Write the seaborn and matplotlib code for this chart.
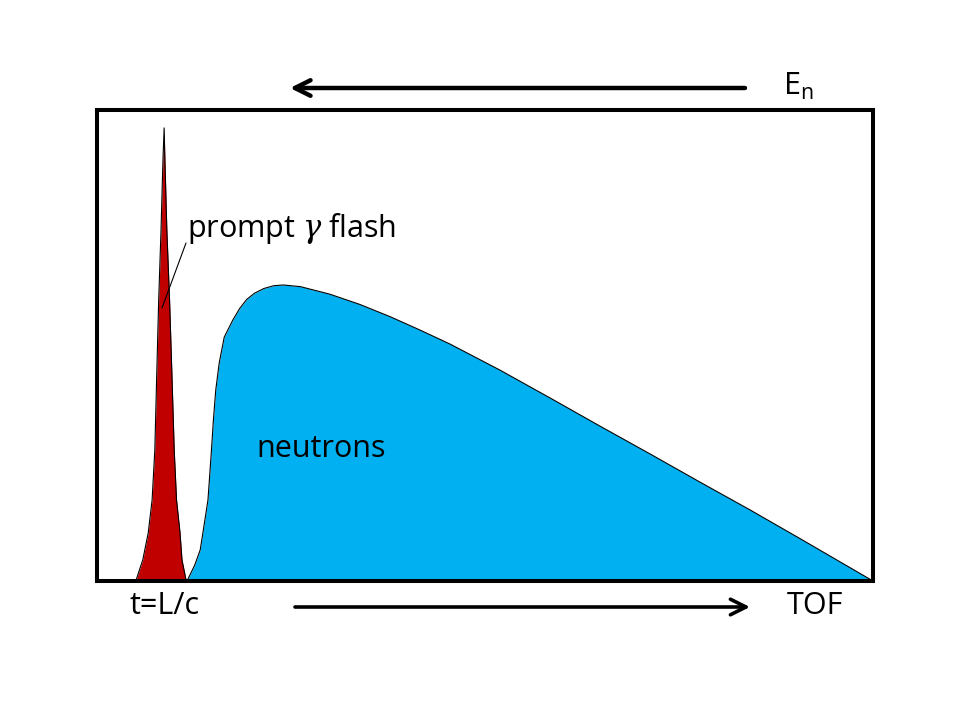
import matplotlib
matplotlib.use("Agg")
import matplotlib.pyplot as plt
import seaborn as sns
import numpy as np
import pandas as pd

# ---- data (arbitrary units: time 0..100, intensity 0..100) ----
gamma_t = [5.0, 5.9, 6.6, 7.1, 7.45, 7.7, 7.95, 8.25, 8.5, 8.65,
           8.75, 9.0, 9.35, 9.65, 9.95, 10.25, 10.7, 10.95, 11.5]
gamma_counts = [0, 4.5, 10.2, 17.2, 27.8, 44.0, 59.7, 74.5, 89.4, 96.2,
                89.4, 74.5, 59.7, 44.0, 27.8, 17.2, 10.2, 4.5, 0]

neutron_t = [11.6, 12.6, 13.3, 13.9, 14.3, 14.75, 15.0, 15.3, 15.75, 16.4,
             17.5, 18.4, 19.3, 20.3, 21.5, 22.8, 24.0, 26.2, 30.0, 33.9,
             37.8, 41.6, 45.5, 51.9, 58.4, 64.8, 71.3, 77.7, 84.2, 90.6,
             100.0]
neutron_counts = [0, 3.4, 6.6, 12.9, 17.2, 27.8, 34.2, 40.5, 46.3, 51.8,
                  55.4, 57.9, 59.8, 61.1, 62.1, 62.7, 62.85, 62.5, 60.9, 58.7,
                  56.1, 53.3, 50.3, 44.8, 38.85, 32.9, 26.95, 21.0, 15.05, 9.0,
                  0]

labels = {"gamma": "prompt $\\gamma$ flash", "neutrons": "neutrons",
          "t0": "t=L/c", "tof": "TOF", "en": "E$_\\mathregular{n}$"}

sns.set_theme(style="white")
plt.rcParams['font.family'] = ['Open Sans', 'DejaVu Sans']
plt.rcParams['mathtext.fontset'] = 'dejavuserif'

fig = plt.figure(figsize=(9.6, 7.2), dpi=100)
ax = fig.add_axes([97/960, 1-581/720, (873-97)/960, (581-110)/720])

gdf = pd.DataFrame({"t": gamma_t, "c": gamma_counts})
ndf = pd.DataFrame({"t": neutron_t, "c": neutron_counts})

ax.fill_between(ndf["t"], 0, ndf["c"], color="#00B0F0", lw=0, zorder=1)
sns.lineplot(data=ndf, x="t", y="c", sort=False, color="black", lw=0.8,
             ax=ax, zorder=2)
ax.fill_between(gdf["t"], 0, gdf["c"], color="#C00000", lw=0, zorder=3)
sns.lineplot(data=gdf, x="t", y="c", sort=False, color="black", lw=0.8,
             ax=ax, zorder=4)

ax.set_xlim(0, 100)
ax.set_ylim(0, 100)
ax.set_xticks([])
ax.set_yticks([])
ax.set_xlabel("")
ax.set_ylabel("")
for s in ax.spines.values():
    s.set_visible(True)
    s.set_color("black")
    s.set_linewidth(2.9)
    s.set_zorder(10)

# texts (figure pixel coords -> fraction)
def fx(px):
    return px / 960
def fy(py):
    return 1 - py / 720

FS = 22
fig.text(fx(187), fy(229), labels["gamma"], fontsize=FS, ha="left", va="center",
         color="black")
fig.text(fx(321), fy(449), labels["neutrons"], fontsize=FS, ha="center",
         va="center", color="black")
fig.text(fx(165), fy(606), labels["t0"], fontsize=FS, ha="center",
         va="center", color="black")
fig.text(fx(815), fy(606), labels["tof"], fontsize=FS, ha="center",
         va="center", color="black")
fig.text(fx(783), fy(86), labels["en"], fontsize=FS, ha="left",
         va="center", color="black")

# leader line
fig.add_artist(plt.Line2D([fx(186), fx(162)], [fy(243), fy(308)],
                          color="black", lw=0.8, zorder=20))

# arrows
fig.patches.append(matplotlib.patches.FancyArrowPatch(
    (fx(745), fy(88)), (fx(290), fy(88)), transform=fig.transFigure,
    arrowstyle="->", mutation_scale=28, lw=3.2, color="black",
    shrinkA=0, shrinkB=0))
fig.patches.append(matplotlib.patches.FancyArrowPatch(
    (fx(295), fy(607)), (fx(750), fy(607)), transform=fig.transFigure,
    arrowstyle="->", mutation_scale=28, lw=2.6, color="black",
    shrinkA=0, shrinkB=0))

fig.savefig("out.png", dpi=100, facecolor="white")
